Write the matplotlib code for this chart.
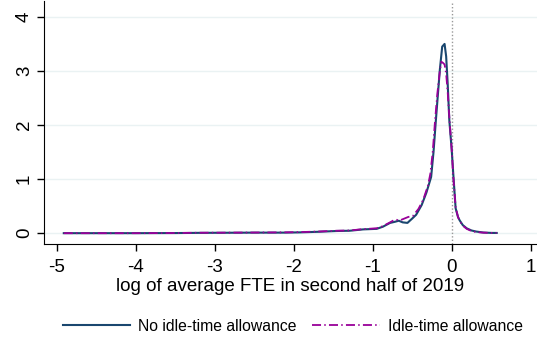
import numpy as np
import matplotlib.pyplot as plt

plt.rcParams['font.family'] = ['Liberation Sans', 'DejaVu Sans']
plt.rcParams['axes.unicode_minus'] = False

x_no_idle = [-4.91, -4.5, -4.0, -3.5, -3.19, -2.8, -2.5, -2.13, -1.92, -1.7, -1.46,
             -1.29, -1.12, -0.95, -0.87, -0.78, -0.72, -0.67, -0.62, -0.56, -0.50,
             -0.45, -0.38, -0.32, -0.26, -0.23, -0.20, -0.17, -0.15, -0.12, -0.09,
             -0.07, -0.05, -0.03, 0.00, 0.02, 0.05, 0.08, 0.10, 0.14, 0.19, 0.25,
             0.31, 0.40, 0.50, 0.57]
y_no_idle = [0.0, 0.0, 0.0, 0.002, 0.006, 0.008, 0.01, 0.01, 0.015, 0.025, 0.04,
             0.045, 0.07, 0.08, 0.12, 0.19, 0.21, 0.23, 0.20, 0.19, 0.27,
             0.34, 0.52, 0.75, 1.04, 1.50, 2.09, 2.65, 3.02, 3.45, 3.50,
             3.27, 2.75, 2.09, 1.55, 1.10, 0.46, 0.30, 0.24, 0.15, 0.09, 0.05,
             0.03, 0.012, 0.005, 0.004]

x_idle = [-4.91, -4.5, -4.0, -3.5, -3.19, -2.8, -2.5, -2.13, -1.92, -1.7, -1.46,
          -1.29, -1.12, -0.95, -0.87, -0.78, -0.72, -0.65, -0.55, -0.49,
          -0.42, -0.36, -0.30, -0.27, -0.24, -0.21, -0.18, -0.15, -0.13, -0.11,
          -0.09, -0.07, -0.05, -0.03, 0.00, 0.02, 0.05, 0.08, 0.10, 0.14, 0.19,
          0.25, 0.31, 0.40, 0.50, 0.57]
y_idle = [0.0, 0.0, 0.0, 0.003, 0.008, 0.01, 0.012, 0.015, 0.02, 0.03, 0.045,
          0.05, 0.075, 0.09, 0.13, 0.20, 0.25, 0.24, 0.30, 0.32,
          0.45, 0.62, 0.88, 1.10, 1.50, 2.09, 2.60, 3.00, 3.17, 3.15,
          3.12, 2.95, 2.60, 2.15, 1.55, 1.05, 0.48, 0.30, 0.23, 0.14, 0.08,
          0.04, 0.02, 0.01, 0.005, 0.004]

x_ticks = [-5, -4, -3, -2, -1, 0, 1]
y_ticks = [0, 1, 2, 3, 4]

fig = plt.figure(figsize=(5.37, 3.37), dpi=100)
ax = fig.add_axes([0.082, 0.276, 0.918, 0.722])

for y in y_ticks:
    ax.axhline(y, color='#eaf2f3', lw=1.0, zorder=0)
ax.axvline(0, color='#999999', lw=1.0, ls=(0, (1, 1.5)), zorder=1)

ax.plot(x_no_idle, y_no_idle, color='#1a476f', lw=1.5, zorder=3,
        label='No idle-time allowance')
ax.plot(x_idle, y_idle, color='#990099', lw=1.3, zorder=4,
        dashes=(5, 1.8, 0.8, 1.8), label='Idle-time allowance')

ax.set_xlim(-5.16, 1.08)
ax.set_ylim(-0.2, 4.3)
ax.set_xticks(x_ticks)
ax.set_yticks(y_ticks)
ax.tick_params(axis='both', labelsize=13.5, length=5, width=1, color='black')
ax.tick_params(axis='x', pad=6)
ax.tick_params(axis='y', pad=3)
plt.setp(ax.get_yticklabels(), rotation=90, va='center')

for side in ['top', 'right']:
    ax.spines[side].set_visible(False)
ax.spines['left'].set_color('black')
ax.spines['bottom'].set_color('black')

ax.set_xlabel('log of average FTE in second half of 2019', fontsize=13.5, labelpad=1)

fig.legend(loc='lower center', bbox_to_anchor=(0.545, -0.032), ncol=2,
           frameon=False, fontsize=11.3, handlelength=4.3, columnspacing=1.0,
           handletextpad=0.5)

fig.savefig('out.png', dpi=100)
